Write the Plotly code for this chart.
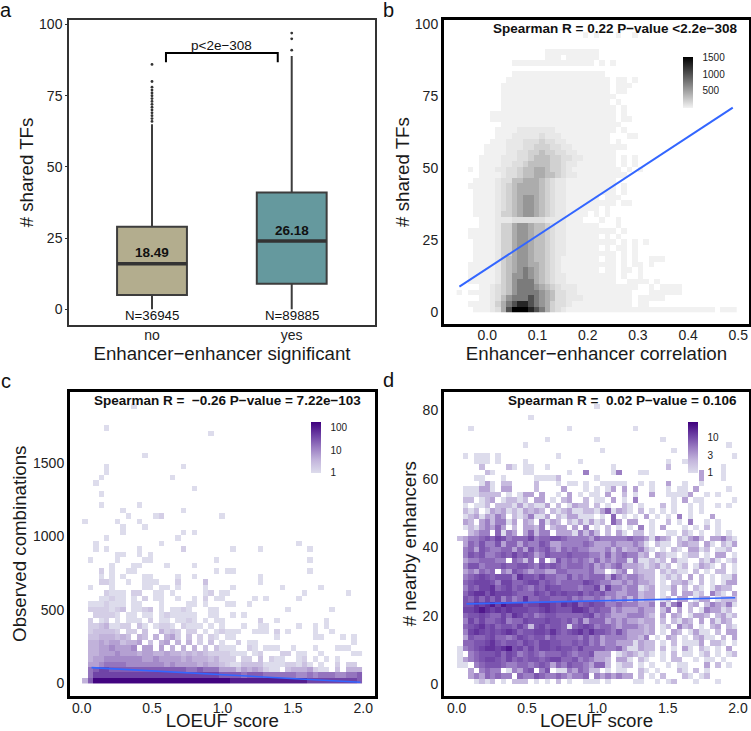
import numpy as np
import plotly.graph_objects as go

W, H = 751, 731
FONT = "Liberation Sans"
BLUE = "#3366FF"

# ---- panel a: box summary values
box_labels = ["no", "yes"]
box_pos = [1, 2]
box_q1 = [5, 9]
box_median = [16, 24]
box_q3 = [29, 41]
box_low = [0, 0]
box_high = [65, 89]
box_means = ["18.49", "26.18"]
box_mean_y = [20, 27.8]
box_n = ["N=36945", "N=89885"]
box_fill = ["#b3ad8e", "#65999e"]
outliers_no = [66, 67, 68, 69, 70, 71, 72, 73, 74, 75, 76, 77, 78, 80, 86]
outliers_yes = [91, 95, 97]
bracket_x = [1.1, 1.1, 1.9, 1.9]
bracket_y = [86.8, 90, 90, 86.8]

# ---- panel b: count levels, rows listed top to bottom, '.' = empty bin
b_level_counts = {"1": 5, "2": 65, "3": 130, "4": 210, "5": 325, "6": 445, "7": 580,
                  "8": 750, "9": 1020, "a": 1290, "b": 1530}
b_rows = [
 ".......................1.1...1..1",
 "",
 "",
 "................1111111111",
 "................111.111111",
 "..........111111111111111.1.1",
 "",
 "..........11111111111111111",
 ".........1111111111111111111.11.1",
 "........11111111111111111111.111",
 "........11111111111111111111.11",
 "........111111111111111111111",
 "........11111111111111111111.1",
 "........111111111111111111111.1",
 "......11111111111111111111111.1",
 "......11111111111111111111111.11",
 "........1111111111111111111111",
 ".......1111222222211111111111.1",
 ".......111222223222111111111...11",
 "......1112223334332211111111.1",
 ".....11112223344433221111111111",
 ".....111122334454433221111111",
 "....1111222334555443322111111.1.1",
 "....1111223345555443221111111.1.1",
 "..1.11122334556654432111111111.1.1",
 "....111123345566554322111111111",
 "...11112335566654322111111111",
 "..111112345666654322111111111.1",
 "...11112345666654322111111111.1",
 "...11112345677654322111111.111",
 "...11112345677654322111111111.11",
 "...11112345677654322111111.1",
 "...111124456776543221111.1.1",
 "....1112223333332222111...1..1",
 "....1112446776554322111111...1",
 "..111112446776554322111111111.1",
 "..111112446776554322111111.1.1",
 "...11112446776554322111111111.1.1.1",
 "...11112446776554322111111.1.11.1",
 "...11112446776554322111111111.1.1",
 "...11112456776554321111111.11.1.1..111",
 "..111112456776654321111111111.1.11.1",
 "..111112456787654321111111.11.11.1",
 "..111112457787654322111111111.1..1",
 "..111112457888654322111111111..1111.1",
 "....11234578887654322211111111111..1.1111",
 "1.111123457888876533221111111111...111111",
 "....1123578889876533222111111111.11111",
 "..111124689aa9876433211111111111.11",
 "...1112369bbba986432111111111111111111111111111.111",
]
b_line_x = [-0.0556, 0.489]
b_line_y = [8.9, 71]

# ---- panel c: count levels, rows listed top to bottom
c_level_counts = {"1": 1, "2": 1.6, "3": 2.5, "4": 4, "5": 6, "6": 10, "7": 16, "8": 26,
                  "a": 45, "9": 100, "b": 170}
c_rows = [
 ".........1",
 "",
 "",
 "",
 "....1",
 ".......................1",
 "",
 "",
 "",
 "...........1",
 "",
 "....1.............1",
 "....1",
 "...1............1",
 "..1",
 "....................1",
 "...1",
 "",
 "...1......1",
 ".......1..........1",
 "........1....12..........1",
 "1.....1...1",
 ".......1...1",
 ".......1..........1.1",
 "....1............1",
 "..1...........1........................1",
 "..1.1.....1.......2........1....1........1",
 "......11..1.1",
 ".1....1....11...........1................1",
 ".....1...11....1....1",
 "...2.1..11..............1.11.............1",
 "...1.1.1...11....1..1...........1",
 "...221..1..111...2....3.........1",
 ".1...1.....11.11.1....1....1........1......1",
 "....2111.22..11.1.....12.11.............1.......1",
 "...11211.1.2.11..1..1.2.11.....1.1.....1",
 ".1112111.11...1....11.1...11..1",
 ".2222123.1123.1.1121...11............1.......1",
 "..22221.11.11.1211111..11..1.1",
 ".2.12.1.111.2.11.1121.1.11......2..1........1",
 ".22341122.31.1221.2111.1.1...1..11.....1..1.1",
 ".233332.22.3..4232.22.1.12111..111.2.1....1..1",
 ".33444343.43.4.452.3.2.21.11.......1......11...1.1",
 ".4454553445.3.45.4.4.2.3.1..2.11.................1",
 ".445565556.55.5.4.4.4.3.3111..21.111..1...1...111",
 ".445556555455445443434322" + "22111.12...22.11..1.....11",
 ".455666666655655554544434" + "222.22.3.211..12.1.1.1",
 ".556777766666665655554544" + "32113333111122131.1..2.22",
 ".78aa8888888888888877877755535454211.34445211.3.444",
 ".7aaaaaaaaaaaaaaaaaaaaaaa88887888777777667677766778",
 "48bbbbbbbbbbbbbbbbbbbbbbbbb99999999999999aaaaaaaaa8",
]
c_line_x = [0.07, 1.98]
c_line_y = [107, 7]

# ---- panel d: count levels, rows listed top to bottom
d_level_counts = {"1": 1, "2": 2, "3": 3, "4": 5, "5": 7, "6": 9, "7": 11, "8": 14, "9": 20}
d_rows = [
 ".........................1",
 "",
 ".............1",
 "",
 "..1.................1...........1",
 "",
 "................1........1...........1",
 "............1....................................1",
 "..........................1............1",
 ".1.111.1..........1...............................1",
 "...111.1....1.........1...............1..1",
 "....2....21.11..1...........1.........2.........1",
 ".....21.....11......1..4....14...11.........3...1",
 "...11...1.....11112......1..................3...1",
 "....131.22....2...1.11.1..11111..1.1..3..1..1",
 ".111331.33....2....3...1.1.13.3.3..1..1.11.3.....1",
 ".1112222.1.133.3..1.3.1.11.3..2.1..3..11113..1.1",
 ".22.123.12212.33.1.23..2.11.3.1.4......1.3.11.....1",
 ".1.112.2221312113.2.1322.2.1..21.1...2.1..1.1..1.1",
 ".212.13231213232.212311221351321.2.1.1.1..1.1",
 ".12313243.2124113.2133111.1.5.1.1.3.1.1.4.1...3",
 ".32.3424413.32.4132.2131312.53.33..1..2.1.4..1.1",
 ".12134353.2.3324.233.3.4.1.2.1.1.4.1.3...1.1.2.1",
 "..2344.5143.35244.33314242.2.31.22.1..11.21.1..1.1",
 "234456576455574556654444354444" + "454431432.21342.33421",
 ".35464463553544653344445433343" + "33431.211.2322.31.213",
 ".45365445535364564354544333424" + "233421.1.21.3312.112.",
 ".46564456575653465556555443534" + "54423.3211.122.1.33.1",
 ".34455544.5425.5.2645454353434" + "41411212.311..2131.12",
 ".46645556556654656545554534345" + "333212312.12.1321.2.1",
 ".343545.4365434433554444533.13" + "4.3222.21211.2.1.22.1",
 ".45676566648665755446454555364" + "344322.1212.3.2.1.113",
 ".56777647755677565455557654433" + "434332.1.2231.2.1.133",
 ".46577856756546576655545573744" + "344123.113.2.21.1322.",
 ".57886877765557657676675656443" + "344233.1.3.3312.421.3",
 ".65757574645855665556454454343" + "424233.12.33.133.1222",
 ".66878979888677887687856766445" + "444334.4146.23.243241",
 ".77898787877766787666887565534" + "333433.24.3.2.143312",
 ".56676557587564566555556745433" + "344432.3.32.1332.2312",
 ".47575567455766676656463555343" + "433233.2.2132.3.3132",
 ".56786756657526756651567645543" + "444323.12.423.1.23.21",
 ".47876767875667768656786866546" + "433323.1.32.1311.2.33",
 ".36556755457656646555546453444" + "43324.1.32.1.2311.2.3",
 ".55667865665765776655656453443" + "331322.1.2.1113.221.1",
 "145678878967575776766575555445" + "311322.2.1.31.21.1.3.",
 "1.45666757645654555654556333.1" + "232121.1.2.11.12.1.12",
 "1345677657565665677556454332.3" + "31.21..1.22..1.11.1..",
 "11.4566654455456535465543552.1" + "22.1.1..1.11...3.2.1.",
 "..3.4544.14356.46.11435422.1.1" + "1..21.1...21.2.1.....",
 "..34354544.5446544543445.43434" + "33.2.1.2...21.12.....",
 "...1212.1.222.1.1.2.1..111.1.." + "..11..1.12...1...1...",
]
d_line_x = [0.07, 1.98]
d_line_y = [23.5, 25.3]

N_COLS = 51


def decode(rows, levels, log=False):
    assert len(rows) in (50, 51), len(rows)
    grid = []
    for row in reversed(rows):
        row = row.ljust(N_COLS, ".")[:N_COLS]
        vals = [np.nan if ch == "." else levels[ch] for ch in row]
        grid.append(np.log10(vals).tolist() if log else vals)
    return grid


def dom_x(a, b):
    return [a / W, b / W]


def dom_y(top, bottom):
    return [1 - bottom / H, 1 - top / H]


GREYS = [[0, "#f2f2f2"], [1, "#000000"]]
PURPLES = [[0, "#dddcec"], [0.25, "#c3b5dc"], [0.5, "#9a7cc2"], [0.75, "#6b3ea3"], [1, "#3f007d"]]

fig = go.Figure()

# panel a
for i in range(2):
    fig.add_trace(go.Box(
        x=[box_pos[i]], q1=[box_q1[i]], median=[box_median[i]], q3=[box_q3[i]],
        lowerfence=[box_low[i]], upperfence=[box_high[i]], width=0.5, whiskerwidth=0,
        fillcolor=box_fill[i], line=dict(color="#3d3d3d", width=2), boxpoints=False,
        showlegend=False, xaxis="x", yaxis="y"))
    fig.add_trace(go.Scatter(
        x=[box_pos[i] - 0.25, box_pos[i] + 0.25], y=[box_median[i]] * 2, mode="lines",
        line=dict(color="#333333", width=3.5), showlegend=False, xaxis="x", yaxis="y"))
fig.add_trace(go.Scatter(
    x=[box_pos[0]] * len(outliers_no) + [box_pos[1]] * len(outliers_yes),
    y=outliers_no + outliers_yes, mode="markers",
    marker=dict(size=2.8, color="#333333"), showlegend=False, xaxis="x", yaxis="y"))
fig.add_trace(go.Scatter(
    x=bracket_x, y=bracket_y, mode="lines", line=dict(color="black", width=2),
    showlegend=False, xaxis="x", yaxis="y"))


def colorbar(x, top, tickvals, ticktext):
    return dict(
        x=x / W, xanchor="left", xpad=0, ypad=0, y=1 - top / H, yanchor="top",
        lenmode="pixels", len=50.5, thickness=10, outlinewidth=0, borderwidth=0,
        tickmode="array", tickvals=tickvals, ticktext=ticktext,
        ticks="outside", ticklen=8, tickcolor="rgba(0,0,0,0)",
        tickfont=dict(size=10, family=FONT, color="#222222"))


# panel b
fig.add_trace(go.Heatmap(
    z=decode(b_rows, b_level_counts), x0=-0.0556, dx=0.01093, y0=0.97, dy=1.943,
    colorscale=GREYS, zmin=1, zmax=1530, hoverongaps=False,
    colorbar=colorbar(683, 56.5, [500, 1000, 1500], ["500", "1000", "1500"]),
    xaxis="x2", yaxis="y2"))
fig.add_trace(go.Scatter(x=b_line_x, y=b_line_y, mode="lines", line=dict(color=BLUE, width=2),
                         showlegend=False, xaxis="x2", yaxis="y2"))

# panel c
fig.add_trace(go.Heatmap(
    z=decode(c_rows, c_level_counts, log=True), x0=0.022, dx=0.039, y0=18.7, dy=37.4,
    colorscale=PURPLES, zmin=0, zmax=2.27, hoverongaps=False,
    colorbar=colorbar(311, 421.7, [0, 1, 2], ["1", "10", "100"]),
    xaxis="x3", yaxis="y3"))
fig.add_trace(go.Scatter(x=c_line_x, y=c_line_y, mode="lines", line=dict(color=BLUE, width=1.6),
                         showlegend=False, xaxis="x3", yaxis="y3"))

# panel d
fig.add_trace(go.Heatmap(
    z=decode(d_rows, d_level_counts, log=True), x0=0.0223, dx=0.03904, y0=0.9, dy=1.603,
    colorscale=PURPLES, zmin=0, zmax=1.44, hoverongaps=False,
    colorbar=colorbar(688, 421.7, [0, 0.477, 1], ["1", "3", "10"]),
    xaxis="x4", yaxis="y4"))
fig.add_trace(go.Scatter(x=d_line_x, y=d_line_y, mode="lines", line=dict(color=BLUE, width=1.6),
                         showlegend=False, xaxis="x4", yaxis="y4"))


def axis(domain, rng, title, standoff, anchor, color="black", lw=3, **kw):
    return dict(domain=domain, range=rng, anchor=anchor, showgrid=False, zeroline=False,
                showline=True, mirror=True, linecolor=color, linewidth=lw,
                title=dict(text=title, font=dict(size=18.7, family=FONT, color="#1a1a1a"),
                           standoff=standoff),
                tickfont=dict(size=14, family=FONT, color="#222222"), **kw)


layout = dict(
    width=W, height=H, margin=dict(l=0, r=0, t=0, b=0, autoexpand=False), paper_bgcolor="white",
    plot_bgcolor="white", showlegend=False, font=dict(family=FONT),
    xaxis=axis(dom_x(69, 375), [0.406, 2.596], "Enhancer\u2212enhancer significant", 0, "y",
               color="#333333", lw=1.5, tickmode="array", tickvals=box_pos, ticktext=box_labels,
               ticklabelstandoff=-4),
    yaxis=axis(dom_y(20, 325), [-5.5, 101.6], "# shared TFs", 1, "x",
               color="#333333", lw=1.5, tickmode="array", tickvals=[0, 25, 50, 75, 100],
               ticks="outside", ticklen=2, tickcolor="#333333"),
    xaxis2=axis(dom_x(444, 749), [-0.0863, 0.5213], "Enhancer\u2212enhancer correlation", 0, "y2",
                tickmode="array", tickvals=[0, 0.1, 0.2, 0.3, 0.4, 0.5],
                ticktext=["0.0", "0.1", "0.2", "0.3", "0.4", "0.5"], ticklabelstandoff=-4),
    yaxis2=axis(dom_y(20, 324), [-4.06, 101.4], "# shared TFs", 1, "x2",
                tickmode="array", tickvals=[0, 25, 50, 75, 100]),
    xaxis3=axis(dom_x(70, 374.5), [-0.083, 2.0795], "LOEUF score", 0, "y3",
                tickmode="array", tickvals=[0, 0.5, 1, 1.5, 2],
                ticktext=["0.0", "0.5", "1.0", "1.5", "2.0"], ticklabelstandoff=-3),
    yaxis3=axis(dom_y(391.5, 696), [-86.6, 1989], "Observed combinations", 2, "x3",
                tickmode="array", tickvals=[0, 500, 1000, 1500]),
    xaxis4=axis(dom_x(444, 749), [-0.09, 2.078], "LOEUF score", 0, "y4",
                tickmode="array", tickvals=[0, 0.5, 1, 1.5, 2],
                ticktext=["0.0", "0.5", "1.0", "1.5", "2.0"], ticklabelstandoff=-3),
    yaxis4=axis(dom_y(391.5, 696), [-3.4, 85.5], "# nearby enhancers", 2, "x4",
                tickmode="array", tickvals=[0, 20, 40, 60, 80]),
)

annotations = []


def note(text, x, y, size, xref, yref, bold=False, anchor="center"):
    annotations.append(dict(
        text=f"<b>{text}</b>" if bold else text, x=x, y=y, xref=xref, yref=yref,
        showarrow=False, xanchor=anchor, yanchor="middle",
        font=dict(size=size, family=FONT, color="#111111"), borderpad=0))


for i in range(2):
    note(box_means[i], box_pos[i], box_mean_y[i], 13.5, "x", "y", bold=True)
    note(box_n[i], box_pos[i], -2, 13.3, "x", "y")
note("p&lt;2e\u2212308", 1.5, 92.5, 13.5, "x", "y")
note("Spearman R = 0.22 P\u2212value &lt;2.2e\u2212308", 737.5 / W, 1 - 29 / H, 13.5, "paper", "paper",
     bold=True, anchor="right")
note("Spearman R =\u00a0 \u22120.26 P\u2212value = 7.22e\u2212103", 362 / W, 1 - 400 / H, 13.5, "paper", "paper",
     bold=True, anchor="right")
note("Spearman R =\u00a0 0.02 P\u2212value = 0.106", 737.5 / W, 1 - 400 / H, 13.5, "paper", "paper",
     bold=True, anchor="right")
for letter, px, py in [("a", 6, 10), ("b", 388, 10), ("c", 6, 381), ("d", 388, 380)]:
    note(letter, px / W, 1 - py / H, 20, "paper", "paper")

layout["annotations"] = annotations
fig.update_layout(**layout)
fig.write_html("out.html", config={"displayModeBar": False},
               post_script="document.body.style.margin='0';document.documentElement.style.overflow='hidden';")
